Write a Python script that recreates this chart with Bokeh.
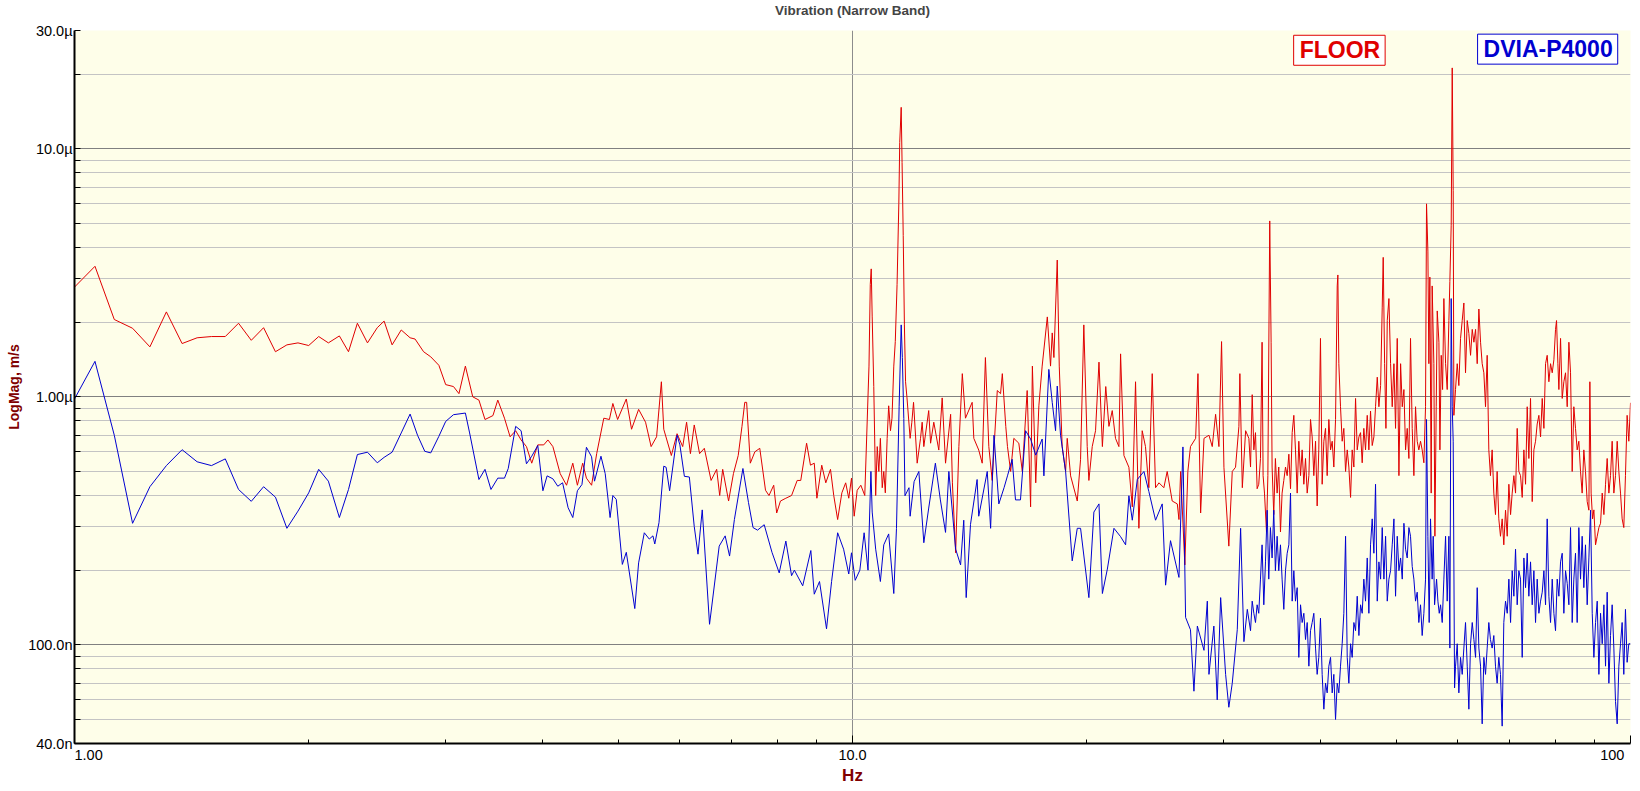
from bokeh.plotting import figure
from bokeh.models import Range1d, FixedTicker, Label, Title
from bokeh.embed import file_html
from bokeh.resources import INLINE

# FLOOR spectrum: frequency (Hz) and magnitude (um/s)
floor_hz = [
    1.0, 1.0625, 1.125, 1.1875, 1.25, 1.3125, 1.375, 1.4375, 1.5, 1.5625, 1.625, 1.6875, 1.75, 1.8125, 1.875, 1.9375,
    2.0, 2.06, 2.12, 2.19, 2.25, 2.31, 2.38, 2.45, 2.5, 2.56, 2.63, 2.7, 2.74, 2.81, 2.87, 2.94,
    3.0, 3.07, 3.12, 3.18, 3.25, 3.31, 3.37, 3.45, 3.5, 3.57, 3.63, 3.69, 3.75, 3.81, 3.87, 3.94,
    4.01, 4.06, 4.12, 4.21, 4.29, 4.37, 4.43, 4.5, 4.55, 4.62, 4.69, 4.79, 4.87, 4.92, 4.99,
    5.12, 5.2, 5.31, 5.42, 5.51, 5.6, 5.68, 5.72, 5.85, 5.95, 6.05, 6.12, 6.19, 6.26, 6.36, 6.45,
    6.58, 6.69, 6.75, 6.81, 6.93, 7.03, 7.13, 7.21, 7.27, 7.31, 7.39, 7.49, 7.6, 7.73, 7.81, 7.92,
    7.99, 8.08, 8.21, 8.35, 8.49, 8.58, 8.73, 8.83, 8.93, 9.0, 9.13, 9.24, 9.37, 9.46, 9.57, 9.69,
    9.8, 9.89, 9.97, 10.05, 10.14, 10.25, 10.37,
    10.5, 10.54, 10.57, 10.6, 10.65, 10.71, 10.76, 10.81, 10.86, 10.92, 10.97, 11.02, 11.08, 11.13,
    11.19, 11.24, 11.3, 11.35, 11.41, 11.47, 11.5, 11.55, 11.58, 11.62, 11.66, 11.7, 11.75, 11.86,
    11.92, 11.98, 12.11, 12.23, 12.29, 12.35, 12.53, 12.6, 12.72, 12.91, 13.04, 13.17, 13.37, 13.44,
    13.57, 13.7, 13.84, 13.97, 14.25, 14.32, 14.53, 14.68, 14.82, 14.97, 15.12, 15.35, 15.5, 15.58,
    15.74, 15.82, 15.97, 16.12, 16.36, 16.53, 16.77, 16.94, 17.03, 17.2, 17.36, 17.53, 17.8, 17.97,
    18.06, 18.15, 18.33, 18.44, 18.6, 18.79, 18.88, 19.07, 19.45, 19.64, 19.83, 20.03, 20.13, 20.33,
    20.53, 20.74, 20.95, 21.16, 21.36, 21.57, 21.78, 22.0, 22.11, 22.33, 22.66, 22.89, 23.11, 23.34,
    23.57, 23.8, 24.04, 24.28, 24.52, 24.77, 25.13, 25.38, 25.76, 26.15, 26.28, 26.41, 26.74, 26.98,
    27.19, 27.61, 27.8, 28.02, 28.3, 28.72, 29.0, 29.29, 29.58, 29.81, 30.02, 30.46, 30.77, 31.07,
    31.38, 31.47, 31.7, 32.01, 32.32,
    32.48, 32.64, 32.8, 32.96, 33.12, 33.28, 33.45, 33.61, 33.71, 33.85, 34.05, 34.19, 34.38, 34.52,
    34.62, 34.79, 34.96, 35.14, 35.31, 35.49, 35.66, 35.84, 36.02, 36.2, 36.38, 36.56, 36.74, 36.92,
    37.1, 37.29, 37.47, 37.66, 37.84, 38.03, 38.22, 38.41, 38.6, 38.79, 38.98, 39.17, 39.37, 39.56,
    39.75, 39.95, 40.15, 40.35, 40.55, 40.75, 40.95, 41.16, 41.36, 41.56, 41.77, 41.98, 42.06, 42.18,
    42.39, 42.6, 42.81, 43.03, 43.24, 43.45, 43.67, 43.88, 44.1, 44.32, 44.54, 44.76, 44.98, 45.2,
    45.42, 45.65, 45.88, 46.1, 46.33, 46.56, 46.79, 47.02, 47.26, 47.49, 47.73, 47.96, 48.1, 48.3,
    48.49, 48.68, 48.92, 49.16, 49.4, 49.65, 49.89, 50.14, 50.39, 50.64, 50.89, 51.14, 51.39, 51.64,
    51.9, 52.15, 52.41, 52.67, 52.93, 53.19, 53.45, 53.72, 53.98, 54.25, 54.52, 54.68, 54.9, 55.06,
    55.22, 55.44, 55.6, 55.88, 56.05, 56.27, 56.44, 56.72, 56.89, 57.11, 57.34, 57.56, 57.85, 58.13,
    58.42, 58.59, 58.82, 59.0, 59.17, 59.29, 59.58, 59.88, 60.17, 60.47, 60.77, 61.07, 61.37, 61.68,
    61.98, 62.29, 62.6, 62.91, 63.22, 63.53, 63.84, 64.16, 64.47, 64.79, 65.11, 65.43, 65.75, 66.07,
    66.4, 66.73, 67.06, 67.39, 67.72, 68.06, 68.4, 68.73, 69.08, 69.43, 69.77, 70.12, 70.46, 70.81,
    71.16, 71.51, 71.86, 72.22, 72.58, 72.94, 73.3, 73.66, 74.02, 74.39, 74.76, 75.13, 75.5, 75.87,
    76.25, 76.63, 77.01, 77.39, 77.77, 78.15, 78.54, 78.93, 79.32, 79.71, 80.1, 80.34, 80.66, 80.9,
    81.3, 81.7, 82.1, 82.51, 82.92, 83.33, 83.74, 84.15, 84.56, 84.98, 85.4, 85.82, 86.25, 86.67,
    87.1, 87.53, 87.97, 88.41, 88.67, 89.0, 89.38, 89.73, 90.17, 90.62, 91.07, 91.52, 91.97, 92.43,
    92.88, 93.33, 93.8, 94.26, 94.72, 95.19, 95.66, 96.14, 96.61, 97.09, 97.56, 98.04, 98.52, 99.01,
    99.5, 100.0,
]
floor_um = [
    2.77, 3.36, 2.05, 1.89, 1.59, 2.20, 1.64, 1.73, 1.75, 1.75, 1.98, 1.69, 1.90, 1.52, 1.62, 1.65,
    1.61, 1.75, 1.65, 1.76, 1.52, 1.98, 1.65, 1.90, 2.02, 1.62, 1.86, 1.73, 1.71, 1.52, 1.45, 1.34,
    1.12, 1.10, 1.03, 1.33, 1.0, 0.97, 0.81, 0.84, 0.97, 0.82, 0.69, 0.73, 0.67, 0.63, 0.54, 0.64,
    0.64, 0.67, 0.63, 0.49, 0.44, 0.54, 0.44, 0.54, 0.47, 0.44, 0.59, 0.82, 0.81, 0.94, 0.81,
    0.98, 0.74, 0.89, 0.79, 0.63, 0.69, 1.15, 0.74, 0.58, 0.71, 0.63, 0.79, 0.59, 0.77, 0.59, 0.62,
    0.46, 0.51, 0.40, 0.51, 0.38, 0.49, 0.58, 0.76, 0.95, 0.95, 0.54, 0.60, 0.62, 0.42, 0.40, 0.44,
    0.34, 0.38, 0.39, 0.40, 0.46, 0.46, 0.65, 0.53, 0.54, 0.39, 0.53, 0.45, 0.51, 0.40, 0.32, 0.41,
    0.45, 0.39, 0.47, 0.33, 0.42, 0.44, 0.40,
    1.33, 2.84, 3.28, 2.10, 1.10, 0.40, 0.63, 0.50, 0.68, 0.43, 0.50, 0.41, 0.68, 0.92,
    0.73, 0.82, 1.33, 1.67, 2.84, 6.04, 10.6, 14.7, 8.81, 4.47, 1.95, 1.15, 0.99, 0.68,
    0.79, 0.95, 0.54, 0.68, 0.79, 0.63, 0.88, 0.65, 0.79, 0.61, 0.99, 0.54, 0.85, 0.45,
    0.235, 0.63, 1.24, 0.82, 0.95, 0.68, 0.61, 0.54, 1.44, 0.63, 0.46, 1.06, 1.03, 1.24,
    0.76, 0.63, 0.50, 0.68, 0.65, 0.50, 1.06, 0.36, 1.33, 0.45, 0.92, 1.33, 2.10, 1.33,
    1.81, 1.44, 3.56, 1.33, 0.63, 0.50, 0.68, 0.48, 0.38, 0.56, 1.95, 0.63, 0.46, 0.63,
    0.73, 1.38, 0.63, 1.10, 0.76, 0.88, 0.68, 0.63, 1.49, 0.58, 0.52, 0.36, 1.15, 0.295,
    0.73, 0.63, 0.43, 1.24, 0.43, 0.45, 0.43, 0.50, 0.38, 0.37, 0.32, 0.50, 0.21, 0.50,
    0.63, 0.68, 1.24, 0.34, 0.68, 0.70, 0.63, 0.85, 0.63, 1.67, 0.52, 0.25, 0.50, 0.52,
    0.76, 1.24, 0.43, 0.73, 0.68,
    0.521, 1.02, 0.611, 0.717, 0.426, 0.444, 0.564, 1.66, 0.481, 0.409, 0.285, 0.481, 5.12, 1.66,
    0.521, 0.335, 0.564, 0.409, 0.521, 0.285, 0.409, 0.46, 0.521, 0.481, 0.587, 0.426, 0.717, 0.842,
    0.611, 0.409, 0.662, 0.481, 0.611, 0.444, 0.564, 0.409, 0.481, 0.81, 0.689, 0.481, 0.662, 0.363,
    0.611, 1.72, 0.444, 0.662, 0.746, 0.481, 0.81, 0.611, 0.662, 0.521, 0.81, 2.80, 3.10, 1.36,
    0.912, 0.662, 0.746, 0.50, 0.611, 0.521, 0.393, 0.611, 0.521, 0.985, 0.611, 0.689, 0.717, 0.542,
    0.746, 0.611, 0.842, 0.611, 0.876, 0.636, 0.689, 0.912, 1.20, 0.912, 1.11, 2.30, 3.65, 1.36,
    0.746, 2.03, 2.49, 1.36, 0.912, 1.36, 0.746, 1.72, 0.481, 1.36, 0.912, 1.07, 0.611, 0.746,
    0.564, 1.72, 0.746, 0.481, 0.912, 0.662, 0.611, 0.662, 0.611, 0.542, 0.912, 6.0, 3.87, 1.36,
    3.04, 0.409, 2.80, 1.36, 0.274, 0.912, 2.22, 1.66, 0.611, 1.47, 1.07, 2.49, 1.36, 1.07,
    2.03, 2.92, 4.92, 21.2, 6.78, 0.842, 1.07, 1.36, 1.11, 1.72, 2.03, 2.39, 1.25, 2.03,
    1.80, 1.47, 1.87, 1.66, 1.87, 1.36, 2.26, 1.66, 1.36, 1.25, 0.912, 1.47, 0.611, 0.481,
    0.611, 0.409, 0.335, 0.50, 0.322, 0.274, 0.322, 0.253, 0.349, 0.274, 0.444, 0.335, 0.409, 0.481,
    0.409, 0.746, 0.50, 0.481, 0.393, 0.611, 0.444, 0.912, 0.564, 0.985, 0.378, 0.611, 0.662, 0.777,
    0.842, 0.689, 0.985, 0.746, 1.36, 1.47, 1.15, 1.36, 1.25, 1.41, 1.87, 2.03, 1.36, 1.07,
    1.72, 0.985, 1.15, 1.25, 0.912, 1.66, 1.25, 0.50, 0.912, 0.746, 0.611, 0.662, 0.50, 0.409,
    0.611, 0.50, 0.378, 0.349, 1.15, 0.409, 0.322, 0.35, 0.253, 0.274, 0.297, 0.309, 0.409, 0.335,
    0.444, 0.564, 0.409, 0.481, 0.662, 0.409, 0.481, 0.662, 0.50, 0.409, 0.322, 0.297, 0.481, 0.842,
    0.662, 0.946,
]

# DVIA-P4000 spectrum: frequency (Hz) and magnitude (um/s)
dvia_hz = [
    1.0, 1.0625, 1.125, 1.1875, 1.25, 1.3125, 1.375, 1.4375, 1.5, 1.5625, 1.625, 1.6875, 1.75, 1.8125, 1.875, 1.9375,
    2.0, 2.06, 2.12, 2.19, 2.25, 2.31, 2.38, 2.45, 2.5, 2.56, 2.63, 2.7, 2.76, 2.82, 2.87, 2.94,
    3.0, 3.07, 3.18, 3.22, 3.31, 3.37, 3.43, 3.5, 3.57, 3.61, 3.69, 3.75, 3.81, 3.87, 3.94,
    4.0, 4.05, 4.12, 4.18, 4.24, 4.31, 4.37, 4.43, 4.49, 4.55, 4.62, 4.66, 4.75, 4.81, 4.88, 4.92, 4.97,
    5.06, 5.12, 5.25, 5.31, 5.4, 5.48, 5.54, 5.57, 5.64, 5.72, 5.76, 5.82, 5.95, 6.0, 6.08, 6.17,
    6.26, 6.33, 6.41, 6.55, 6.74, 6.86, 6.95, 7.05, 7.23, 7.35, 7.45, 7.55, 7.7, 7.88, 8.05, 8.21,
    8.35, 8.42, 8.63, 8.84, 8.93, 9.07, 9.26, 9.4, 9.57, 9.74, 9.89, 9.97, 10.08, 10.22, 10.35, 10.47, 10.56,
    10.6, 10.71, 10.86, 10.97, 11.13, 11.3, 11.39, 11.48, 11.55, 11.59, 11.64, 11.68, 11.82, 11.86,
    12.0, 12.17, 12.35, 12.53, 12.78, 12.97, 13.17, 13.3, 13.57, 13.77, 13.9, 14.0, 14.18, 14.46,
    14.53, 14.9, 15.05, 15.2, 15.42, 15.66, 15.82, 16.04, 16.2, 16.44, 16.69, 16.94, 17.2, 17.53,
    17.62, 17.88, 18.06, 18.24, 18.33, 18.51, 18.79, 19.16, 19.45, 19.64, 20.13, 20.43, 20.74, 20.95,
    21.26, 21.68, 22.11, 22.44, 22.66, 22.89, 23.23, 23.69, 24.04, 24.52, 25.01, 25.26, 25.63, 26.28,
    26.59, 26.8, 27.19, 27.47, 27.75, 28.3, 28.58, 28.72, 29.14, 29.43, 29.73, 30.17, 30.46, 30.77,
    31.23, 31.54, 31.85, 32.17,
    32.48, 32.64, 32.8, 32.96, 33.12, 33.28, 33.45, 33.61, 33.78, 33.95, 34.12, 34.28, 34.45, 34.62,
    34.79, 34.96, 35.14, 35.31, 35.49, 35.66, 35.84, 36.02, 36.2, 36.38, 36.56, 36.74, 36.92, 37.1,
    37.29, 37.47, 37.66, 37.84, 38.03, 38.22, 38.41, 38.6, 38.79, 38.98, 39.17, 39.37, 39.56, 39.75,
    39.95, 40.15, 40.35, 40.55, 40.75, 40.95, 41.16, 41.36, 41.56, 41.77, 41.98, 42.18, 42.39, 42.6,
    42.81, 43.03, 43.24, 43.45, 43.67, 43.88, 44.1, 44.32, 44.54, 44.76, 44.98, 45.2, 45.42, 45.65,
    45.88, 46.1, 46.33, 46.56, 46.79, 47.02, 47.26, 47.49, 47.73, 47.96, 48.2, 48.44, 48.68, 48.92,
    49.16, 49.4, 49.65, 49.89, 50.14, 50.39, 50.64, 50.89, 51.14, 51.39, 51.64, 51.9, 52.15, 52.41,
    52.67, 52.93, 53.19, 53.45, 53.72, 53.98, 54.25, 54.52, 54.68, 54.9, 55.11, 55.33, 55.6, 55.77,
    56.0, 56.33, 56.55, 56.78, 57.0, 57.28, 57.56, 57.85, 58.13, 58.42, 58.59, 58.82, 59.0, 59.17,
    59.41, 59.58, 59.88, 60.17, 60.47, 60.77, 61.07, 61.37, 61.68, 61.98, 62.29, 62.6, 62.91, 63.22,
    63.53, 63.84, 64.16, 64.47, 64.79, 65.11, 65.43, 65.75, 66.07, 66.4, 66.73, 67.06, 67.39, 67.72,
    68.06, 68.4, 68.73, 69.08, 69.43, 69.77, 70.12, 70.46, 70.81, 71.16, 71.51, 71.86, 72.22, 72.58,
    72.94, 73.3, 73.66, 74.02, 74.39, 74.76, 75.13, 75.5, 75.87, 76.25, 76.63, 77.01, 77.39, 77.77,
    78.15, 78.54, 78.93, 79.32, 79.71, 80.1, 80.5, 80.9, 81.3, 81.7, 82.1, 82.51, 82.92, 83.33,
    83.74, 84.15, 84.56, 84.98, 85.4, 85.82, 86.25, 86.67, 87.1, 87.53, 87.97, 88.41, 88.85, 89.29,
    89.73, 90.17, 90.62, 91.07, 91.52, 91.97, 92.43, 92.88, 93.33, 93.8, 94.26, 94.72, 95.19, 95.66,
    96.14, 96.61, 97.09, 97.56, 98.04, 98.52, 99.01, 99.5, 100.0,
]
dvia_um = [
    0.98, 1.39, 0.70, 0.309, 0.434, 0.528, 0.612, 0.547, 0.528, 0.562, 0.423, 0.379, 0.434, 0.394, 0.295, 0.346,
    0.41, 0.51, 0.457, 0.326, 0.423, 0.585, 0.598, 0.542, 0.57, 0.598, 0.715, 0.852, 0.70, 0.603, 0.594, 0.693,
    0.796, 0.847, 0.86, 0.715, 0.464, 0.51, 0.423, 0.47, 0.47, 0.514, 0.76, 0.73, 0.537, 0.576, 0.636,
    0.418, 0.48, 0.467, 0.436, 0.45, 0.357, 0.326, 0.418, 0.443, 0.626, 0.573, 0.457, 0.576, 0.49, 0.326, 0.40, 0.386,
    0.211, 0.236, 0.14, 0.214, 0.283, 0.267, 0.275, 0.255, 0.311, 0.525, 0.52, 0.418, 0.70, 0.64, 0.478, 0.475,
    0.30, 0.232, 0.35, 0.121, 0.25, 0.275, 0.228, 0.32, 0.514, 0.375, 0.297, 0.29, 0.305, 0.236, 0.195, 0.262,
    0.19, 0.20, 0.173, 0.24, 0.16, 0.18, 0.116, 0.18, 0.283, 0.243, 0.193, 0.235, 0.182, 0.20, 0.283, 0.20, 0.50,
    0.343, 0.243, 0.18, 0.253, 0.28, 0.161, 0.295, 0.916, 1.95, 1.44, 0.818, 0.399, 0.43, 0.33,
    0.455, 0.50, 0.258, 0.356, 0.54, 0.384, 0.284, 0.50, 0.243, 0.21, 0.318, 0.155, 0.306, 0.464,
    0.33, 0.50, 0.295, 0.70, 0.37, 0.43, 0.48, 0.56, 0.384, 0.384, 0.73, 0.676, 0.582, 0.676,
    0.48, 1.29, 0.95, 0.73, 1.105, 0.70, 0.50, 0.218, 0.295, 0.295, 0.155, 0.343, 0.37, 0.161,
    0.202, 0.295, 0.273, 0.253, 0.399, 0.318, 0.464, 0.50, 0.415, 0.318, 0.37, 0.174, 0.263, 0.187,
    0.628, 0.129, 0.115, 0.065, 0.119, 0.095, 0.15, 0.076, 0.119, 0.060, 0.155, 0.076, 0.056, 0.07,
    0.115, 0.295, 0.103, 0.139,
    0.114, 0.150, 0.134, 0.123, 0.145, 0.134, 0.184, 0.253, 0.145, 0.216, 0.349, 0.184, 0.297, 0.224,
    0.349, 0.199, 0.274, 0.199, 0.253, 0.184, 0.139, 0.199, 0.234, 0.253, 0.409, 0.150, 0.199, 0.150,
    0.170, 0.089, 0.145, 0.123, 0.134, 0.105, 0.123, 0.082, 0.114, 0.123, 0.134, 0.097, 0.076, 0.089,
    0.128, 0.076, 0.055, 0.070, 0.064, 0.082, 0.089, 0.064, 0.076, 0.050, 0.070, 0.064, 0.082, 0.101,
    0.134, 0.274, 0.089, 0.070, 0.101, 0.089, 0.123, 0.114, 0.157, 0.109, 0.145, 0.134, 0.184, 0.150,
    0.224, 0.134, 0.253, 0.322, 0.234, 0.444, 0.150, 0.216, 0.184, 0.297, 0.184, 0.274, 0.150, 0.184,
    0.199, 0.253, 0.322, 0.157, 0.274, 0.199, 0.224, 0.184, 0.309, 0.243, 0.224, 0.297, 0.274, 0.207,
    0.184, 0.150, 0.163, 0.123, 0.145, 0.109, 0.134, 0.184, 0.81, 0.274, 0.123, 0.322, 0.184, 0.274,
    0.145, 0.184, 0.150, 0.134, 0.145, 0.123, 0.184, 0.274, 0.150, 0.274, 0.097, 2.49, 0.912, 0.662,
    0.067, 0.082, 0.101, 0.064, 0.089, 0.076, 0.097, 0.123, 0.082, 0.055, 0.101, 0.123, 0.105, 0.089,
    0.170, 0.097, 0.082, 0.048, 0.089, 0.076, 0.097, 0.123, 0.105, 0.097, 0.109, 0.082, 0.070, 0.089,
    0.076, 0.047, 0.123, 0.150, 0.134, 0.184, 0.123, 0.199, 0.157, 0.243, 0.145, 0.199, 0.184, 0.089,
    0.224, 0.170, 0.234, 0.157, 0.216, 0.145, 0.199, 0.123, 0.184, 0.134, 0.150, 0.163, 0.199, 0.145,
    0.322, 0.157, 0.123, 0.184, 0.134, 0.114, 0.184, 0.157, 0.216, 0.234, 0.134, 0.199, 0.177, 0.145,
    0.297, 0.123, 0.184, 0.234, 0.123, 0.297, 0.184, 0.274, 0.170, 0.253, 0.145, 0.224, 0.349, 0.134,
    0.089, 0.123, 0.150, 0.076, 0.134, 0.101, 0.145, 0.082, 0.163, 0.070, 0.109, 0.145, 0.097, 0.059,
    0.048, 0.082, 0.101, 0.123, 0.076, 0.139, 0.085, 0.101, 0.101,
]

x_ticks = [1, 10, 100]
x_tick_text = ["1.00", "10.0", "100"]
x_minor = [2, 3, 4, 5, 6, 7, 8, 9, 20, 30, 40, 50, 60, 70, 80, 90]
y_ticks = [4e-8, 1e-7, 1e-6, 1e-5, 3e-5]
y_tick_text = ["40.0n", "100.0n", "1.00µ", "10.0µ", "30.0µ"]
y_minor = [5e-8, 6e-8, 7e-8, 8e-8, 9e-8,
           2e-7, 3e-7, 4e-7, 5e-7, 6e-7, 7e-7, 8e-7, 9e-7,
           2e-6, 3e-6, 4e-6, 5e-6, 6e-6, 7e-6, 8e-6, 9e-6, 2e-5]

RED = "#e00000"
BLUE = "#0000d0"
DARKRED = "#800000"
FONT = "Liberation Sans"
NBSP = "\u00a0"

floor_ms = [v * 1e-6 for v in floor_um]
dvia_ms = [v * 1e-6 for v in dvia_um]

p = figure(width=1640, height=787, x_axis_type="log", y_axis_type="log",
           x_range=Range1d(1, 100), y_range=Range1d(4e-8, 3e-5),
           title=None,
           output_backend="svg", toolbar_location=None,
           min_border_left=74, min_border_right=10, min_border_top=30, min_border_bottom=42,
           background_fill_color="#fefee9", border_fill_color="white")
p.outline_line_color = None

# an empty strip next to the frame lifts the title towards the top edge
p.add_layout(Title(text=NBSP, text_font=FONT, text_font_size="9px", standoff=0), "above")
p.add_layout(Title(text="Vibration (Narrow Band)", align="center", text_font=FONT,
                   text_font_size="13.5px", text_font_style="bold", standoff=1), "above")

# x axis: ticks pointing inwards; first and last label kept inside the frame width
x_labels = [NBSP * 7 + x_tick_text[0], x_tick_text[1], x_tick_text[2] + NBSP * 4]
p.xaxis.ticker = FixedTicker(ticks=x_ticks, minor_ticks=x_minor)
p.xaxis.major_label_overrides = dict(zip(x_ticks, x_labels))
p.xaxis.major_label_text_font = FONT
p.xaxis.major_label_text_font_size = "14.5px"
p.xaxis.major_label_text_color = "black"
p.xaxis.major_tick_in = 8
p.xaxis.major_tick_out = 0
p.xaxis.minor_tick_in = 4
p.xaxis.minor_tick_out = 0
p.xaxis.major_label_standoff = 3
p.xaxis.axis_line_width = 2
p.xaxis.axis_line_color = "black"
p.xaxis.axis_label = "Hz"
p.xaxis.axis_label_text_font = "Liberation Sans Narrow, Liberation Sans"
p.xaxis.axis_label_text_font_size = "17px"
p.xaxis.axis_label_text_font_style = "bold"
p.xaxis.axis_label_text_color = DARKRED
p.xaxis.axis_label_standoff = 0

# y axis
p.yaxis.ticker = FixedTicker(ticks=y_ticks, minor_ticks=y_minor)
p.yaxis.major_label_overrides = dict(zip(y_ticks, y_tick_text))
p.yaxis.major_tick_in = 6
p.yaxis.major_tick_out = 0
p.yaxis.minor_tick_in = 6
p.yaxis.minor_tick_out = 0
p.yaxis.major_label_standoff = 2
p.yaxis.major_label_text_font = FONT
p.yaxis.major_label_text_font_size = "14.5px"
p.yaxis.major_label_text_color = "black"
p.yaxis.axis_line_width = 2
p.yaxis.axis_line_color = "black"
p.yaxis.axis_label = "LogMag, m/s"
p.yaxis.axis_label_text_font = FONT
p.yaxis.axis_label_text_font_size = "14px"
p.yaxis.axis_label_text_font_style = "bold"
p.yaxis.axis_label_text_color = DARKRED
p.yaxis.axis_label_standoff = 3

# grid: darker decade lines, light lines in between, one vertical line at 10 Hz
p.ygrid.ticker = FixedTicker(ticks=[1e-7, 1e-6, 1e-5], minor_ticks=y_minor)
p.ygrid.grid_line_color = "#808080"
p.ygrid.minor_grid_line_color = "#c4c4c4"
p.xgrid.ticker = FixedTicker(ticks=[10])
p.xgrid.grid_line_color = "#8c8c8c"

p.line(floor_hz, floor_ms, line_color=RED, line_width=1)
p.line(dvia_hz, dvia_ms, line_color=BLUE, line_width=1)

# boxed series names
p.add_layout(Label(x=36.9, y=2.87e-5, text="FLOOR", text_align="left", text_baseline="top",
                   text_font=FONT, text_font_size="23px", text_font_style="bold", text_color=RED,
                   border_line_color=RED, border_line_width=1, background_fill_color="white",
                   padding=dict(left=6, right=5, top=2, bottom=2)))
p.add_layout(Label(x=63.6, y=2.9e-5, text="DVIA-P4000", text_align="left", text_baseline="top",
                   text_font=FONT, text_font_size="23px", text_font_style="bold", text_color=BLUE,
                   border_line_color=BLUE, border_line_width=1, background_fill_color="white",
                   padding=dict(left=6, right=5, top=2, bottom=2)))

open("out.html", "w").write(file_html(p, INLINE))
